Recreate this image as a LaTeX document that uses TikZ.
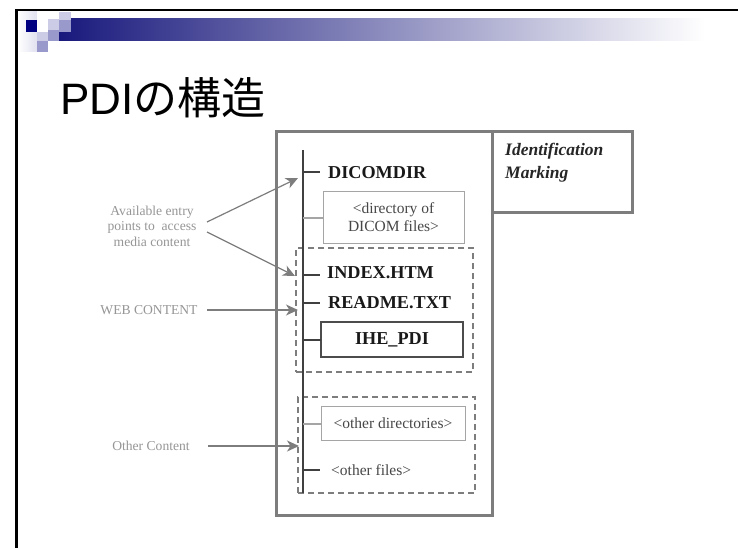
\documentclass[tikz,border=0pt]{standalone}
\usepackage{fontspec}
\setmainfont{Liberation Serif}
\newfontfamily\titlefont{Liberation Sans}
\newfontfamily\cjkfont{Noto Sans CJK JP}
\usetikzlibrary{arrows.meta}
\definecolor{navy}{RGB}{0,0,128}
\definecolor{barstart}{RGB}{25,25,125}
\definecolor{barmid}{RGB}{140,140,175}
\definecolor{sqlight}{RGB}{204,204,230}
\definecolor{sqmid}{RGB}{153,153,204}
\definecolor{frameg}{RGB}{125,125,125}
\definecolor{labelg}{RGB}{150,150,150}
\definecolor{thing}{RGB}{165,165,165}
\tikzset{
  x=1pt,y=-1pt,
  framebox/.style={draw=frameg,line width=3pt,outer sep=0pt,inner sep=0},
  dashbox/.style={draw=frameg,line width=1.5pt,outer sep=0pt,dash pattern=on 6pt off 4pt},
  thinbox/.style={draw=thing,line width=1pt,outer sep=0pt,anchor=north west,inner sep=0,align=center,text=black!72,font=\fontsize{15.5}{18}\selectfont},
  darkbox/.style={draw=black!70,line width=1.1pt,outer sep=0pt,anchor=north west,inner sep=0,font=\bfseries\fontsize{18.2}{20}\selectfont,text=black!90},
  filelabel/.style={anchor=west,inner sep=0,font=\bfseries\fontsize{18.2}{20}\selectfont,text=black!90},
  sidelabel/.style={inner sep=0,align=center,text=labelg,font=\fontsize{13.6}{15.5}\selectfont},
  branch/.style={draw=black!75,line width=1.1pt},
  lightbranch/.style={draw=thing,line width=1.1pt},
  pointer/.style={draw=frameg,line width=1.2pt,-{Stealth[length=12pt,width=11pt,inset=3.5pt]}}
}
\begin{document}
\begin{tikzpicture}
\useasboundingbox (0,0) rectangle (738,548);
\fill[white] (0,0) rectangle (738,548);
% slide template
\shade[left color=white,right color=sqlight!60] (18,11) rectangle (37,52);
\fill[white] (37,11) rectangle (59,20);
\shade[left color=barstart,middle color=barmid,right color=white] (59,19) rectangle (705,41);
\fill[navy] (26,20) rectangle (37,32);
\fill[white] (37,11) rectangle (48,32);
\fill[sqlight] (48,19) rectangle (59,30);
\fill[sqlight] (59,12) rectangle (71,20);
\fill[sqmid] (59,20) rectangle (71,32);
\fill[sqlight] (37,32) rectangle (48,41);
\fill[sqmid] (48,30) rectangle (59,41);
\fill[sqmid] (37,41) rectangle (48,52);
\draw[black,line width=2.2pt] (738,10) -- (16.5,10) -- (16.5,548);
\node[anchor=base west,inner sep=0] (title) at (60,115)
  {\fontsize{44}{46}\selectfont\titlefont PDI\cjkfont の構造};
% frames
\node[framebox,anchor=north west,minimum width=216pt,minimum height=383pt] (media) at (276,132) {};
\node[framebox,anchor=north west,minimum width=140pt,minimum height=80pt] (idbox) at (492,132) {};
\node[anchor=north west,inner sep=0,align=left,font=\bfseries\itshape\fontsize{17.5}{23}\selectfont,text=black!85] (idtext) at (505,143) {Identification\\Marking};
% dashed groups
\node[dashbox,anchor=north west,minimum width=177pt,minimum height=124pt,inner sep=0] (web) at (296,248) {};
\node[dashbox,anchor=north west,minimum width=177pt,minimum height=96pt,inner sep=0] (other) at (298,397) {};
% tree trunk
\coordinate (trunktop) at (303,150);
\coordinate (trunkbot) at (303,493);
\draw[branch] (trunktop) -- (trunkbot);
% entries
\node[filelabel] (dicomdir) at (328,173) {DICOMDIR};
\node[thinbox,minimum width=141pt,minimum height=52pt] (dirbox) at (323,191) {<directory of\\DICOM files>};
\node[filelabel] (index) at (327,273) {INDEX.HTM};
\node[filelabel] (readme) at (328,303) {README.TXT};
\node[darkbox,minimum width=142pt,minimum height=35pt] (ihe) at (321,322) {IHE\_PDI};
\node[thinbox,minimum width=144pt,minimum height=34pt] (otherdirs) at (321,406) {<other directories>};
\node[anchor=west,inner sep=0,text=black!72,font=\fontsize{15.5}{18}\selectfont] (otherfiles) at (331,470) {<other files>};
% branches
\coordinate (b1) at (303,172); \coordinate (b1e) at (320,172);
\coordinate (b3) at (303,275); \coordinate (b3e) at (320,275);
\coordinate (b4) at (303,303); \coordinate (b4e) at (320,303);
\coordinate (b6) at (303,470); \coordinate (b6e) at (320,470);
\coordinate (b2) at (303,218);
\coordinate (b5) at (303,340);
\coordinate (b7) at (303,424);
\draw[branch] (b1) -- (b1e);
\draw[branch] (b3) -- (b3e);
\draw[branch] (b4) -- (b4e);
\draw[branch] (b6) -- (b6e);
\draw[lightbranch] (b2) -- (dirbox.west |- b2);
\draw[branch] (b5) -- (ihe.west |- b5);
\draw[lightbranch] (b7) -- (otherdirs.west |- b7);
% side labels
\node[sidelabel] (entry) at (152,226) {Available entry\\points to\ \ access\\media content};
\node[sidelabel] (webc) at (149,310) {WEB CONTENT};
\node[sidelabel] (otherc) at (151,446) {Other Content};
\coordinate (a1s) at (207,222); \coordinate (a1e) at (298,178);
\coordinate (a2s) at (207,232); \coordinate (a2e) at (295,276);
\coordinate (a3s) at (207,310); \coordinate (a3e) at (298,310);
\coordinate (a4s) at (208,446); \coordinate (a4e) at (299,446);
\draw[pointer] (a1s) -- (a1e);
\draw[pointer] (a2s) -- (a2e);
\draw[pointer] (a3s) -- (a3e);
\draw[pointer] (a4s) -- (a4e);
\end{tikzpicture}
\end{document}
